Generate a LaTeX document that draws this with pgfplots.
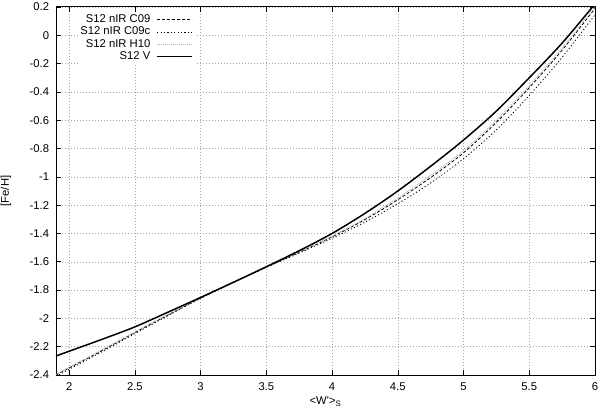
\documentclass[border=0pt]{standalone}
\usepackage{fontspec}
\setmainfont{Liberation Sans}
\usepackage{pgfplots}
\pgfplotsset{compat=1.18}
\begin{document}
\fontsize{11.3}{13}\selectfont
\begin{tikzpicture}
\useasboundingbox (-56bp,-39bp) rectangle (544bp,375bp);
\begin{axis}[
  at={(0,0)}, anchor=south west,
  scale only axis, width=539bp, height=368bp,
  xmin=1.9, xmax=6, ymin=-2.4, ymax=0.2,
  xtick={2,2.5,3,3.5,4,4.5,5,5.5,6},
  ytick={-2.4,-2.2,-2,-1.8,-1.6,-1.4,-1.2,-1,-0.8,-0.6,-0.4,-0.2,0,0.2},
  grid=major,
  major grid style={gray!70, line width=0.4pt, dash pattern=on 1bp off 2bp},
  tick align=inside, major tick length=5bp,
  tick style={black, line width=0.6pt},
  axis line style={line width=1pt},
  /pgf/number format/assume math mode=true,
  tick label style={font=\fontsize{11.3}{13}\selectfont},
  xticklabel style={yshift=-4bp},
  yticklabel style={xshift=-3bp},
  xlabel={<W\textquotesingle>\textsubscript{S}},
  ylabel={[Fe/H]},
  xlabel style={at={(axis description cs:0.5,0)}, anchor=center, yshift=-27bp},
  ylabel style={at={(axis description cs:0,0.5)}, anchor=center, yshift=50bp},
  legend plot pos=right,
  legend cell align=right,
  legend image code/.code={\draw[#1] (0bp,0bp) -- (35bp,0bp);},
  legend style={draw=none, fill=white, at={(0.258,0.985)}, anchor=north east,
    inner xsep=2bp, inner ysep=1bp, column sep=6bp,
    nodes={inner sep=0pt, text height=9bp, text depth=3.2bp},
    font=\fontsize{11.3}{13}\selectfont},
]
\addplot[black, line width=0.8pt, dash pattern=on 3bp off 2bp, smooth, tension=0.5] coordinates {
(1.9,-2.40) (2.0,-2.35) (2.25,-2.228) (2.5,-2.10) (2.75,-1.977) (3.0,-1.856) (3.25,-1.744) (3.5,-1.638) (3.75,-1.533) (4.0,-1.424) (4.25,-1.302) (4.5,-1.162) (4.75,-1.005) (5.0,-0.83) (5.25,-0.615) (5.5,-0.37) (5.75,-0.105) (6.0,0.19)};
\addlegendentry{S12 nIR C09}
\addplot[black, line width=0.8pt, dash pattern=on 1.2bp off 2.2bp, smooth, tension=0.5] coordinates {
(1.9,-2.41) (2.0,-2.36) (2.25,-2.236) (2.5,-2.108) (2.75,-1.982) (3.0,-1.858) (3.25,-1.745) (3.5,-1.64) (3.75,-1.538) (4.0,-1.434) (4.25,-1.32) (4.5,-1.19) (4.75,-1.043) (5.0,-0.872) (5.25,-0.668) (5.5,-0.425) (5.75,-0.155) (6.0,0.145)};
\addlegendentry{S12 nIR C09c}
\addplot[gray!60, line width=0.9pt, dash pattern=on 1bp off 1bp, smooth, tension=0.5] coordinates {
(1.9,-2.395) (2.0,-2.345) (2.25,-2.222) (2.5,-2.095) (2.75,-1.973) (3.0,-1.853) (3.25,-1.742) (3.5,-1.636) (3.75,-1.530) (4.0,-1.419) (4.25,-1.294) (4.5,-1.15) (4.75,-0.99) (5.0,-0.815) (5.25,-0.60) (5.5,-0.355) (5.75,-0.09) (6.0,0.205)};
\addlegendentry{S12 nIR H10}
\addplot[black, line width=1.5pt, smooth, tension=0.5] coordinates {
(1.9,-2.266) (2.0,-2.232) (2.25,-2.148) (2.5,-2.06) (2.75,-1.957) (3.0,-1.852) (3.25,-1.745) (3.5,-1.635) (3.75,-1.522) (4.0,-1.400) (4.25,-1.258) (4.5,-1.10) (4.75,-0.925) (5.0,-0.74) (5.25,-0.535) (5.5,-0.30) (5.75,-0.055) (6.0,0.222)};
\addlegendentry{S12 V}
\end{axis}
\end{tikzpicture}
\end{document}
